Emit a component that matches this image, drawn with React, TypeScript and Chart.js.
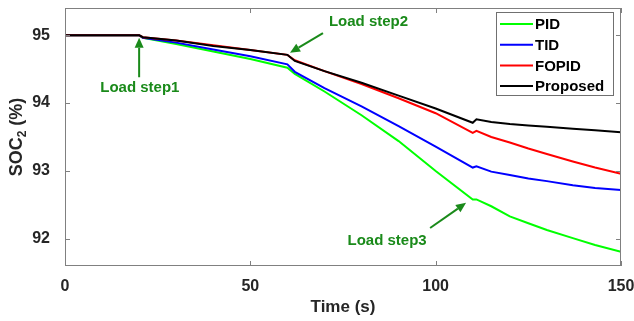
import React, { useEffect, useRef } from "react";
import { Chart, registerables } from "chart.js";

Chart.register(...registerables);

const times = [0, 20, 21, 30, 40, 50, 60, 62, 70, 80, 90, 100, 110, 111, 115, 120, 125, 130, 137, 143, 150];
const pid = [95, 95, 94.96, 94.87, 94.76, 94.65, 94.52, 94.43, 94.17, 93.82, 93.44, 93.0, 92.58, 92.58, 92.48, 92.33, 92.23, 92.13, 92.01, 91.91, 91.81];
const tid = [95, 95, 94.96, 94.89, 94.79, 94.69, 94.57, 94.46, 94.22, 93.95, 93.66, 93.36, 93.05, 93.07, 92.99, 92.94, 92.89, 92.85, 92.79, 92.75, 92.72];
const fopid = [95, 95, 94.97, 94.92, 94.85, 94.78, 94.71, 94.63, 94.47, 94.28, 94.07, 93.85, 93.56, 93.59, 93.50, 93.42, 93.33, 93.25, 93.14, 93.05, 92.96];
const proposed = [95, 95, 94.97, 94.92, 94.84, 94.78, 94.71, 94.62, 94.47, 94.30, 94.11, 93.92, 93.71, 93.76, 93.72, 93.69, 93.67, 93.65, 93.62, 93.60, 93.57];

const seriesLabels = ["PID", "TID", "FOPID", "Proposed"];
const seriesColors = ["#00FF00", "#0000FF", "#FF0000", "#000000"];
const seriesValues = [pid, tid, fopid, proposed];

const xTicks = [0, 50, 100, 150];
const yTicks = [92, 93, 94, 95];

const annoText = ["Load step1", "Load step2", "Load step3"];
// arrow head (x,y), tail (x,y), text anchor (x,y) in data units
const annoHead = [[20, 94.96], [60.7, 94.74], [108.2, 92.53]];
const annoTail = [[20, 94.38], [69.6, 95.03], [98.5, 92.16]];
const annoLabel = [[20.2, 94.22], [71.2, 95.19], [86.9, 91.97]];
const annoAlign = ["center", "left", "center"];

const FONT = '"Liberation Sans", Arial, sans-serif';
const TXT = "#262626";
const AXIS = "#808080";
const ANNO = "#1A8A1A";

const framePlugin = {
  id: "frame",
  afterDatasetsDraw(chart: any) {
    const { ctx, chartArea: a, scales } = chart;
    const xs = scales.x, ys = scales.y;
    ctx.save();
    ctx.strokeStyle = AXIS;
    ctx.lineWidth = 1;
    ctx.strokeRect(a.left + 0.5, a.top + 0.5, a.right - a.left - 1, a.bottom - a.top - 1);
    ctx.beginPath();
    const tl = 5;
    xTicks.forEach((v) => {
      const px = Math.round(xs.getPixelForValue(v)) + 0.5;
      ctx.moveTo(px, a.bottom); ctx.lineTo(px, a.bottom - tl);
      ctx.moveTo(px, a.top); ctx.lineTo(px, a.top + tl);
    });
    yTicks.forEach((v) => {
      const py = Math.round(ys.getPixelForValue(v)) + 0.5;
      ctx.moveTo(a.left, py); ctx.lineTo(a.left + tl, py);
      ctx.moveTo(a.right, py); ctx.lineTo(a.right - tl, py);
    });
    ctx.stroke();

    // annotations
    ctx.strokeStyle = ANNO;
    ctx.fillStyle = ANNO;
    ctx.lineWidth = 2;
    for (let i = 0; i < annoText.length; i++) {
      const hx = xs.getPixelForValue(annoHead[i][0]);
      const hy = ys.getPixelForValue(annoHead[i][1]);
      const tx = xs.getPixelForValue(annoTail[i][0]);
      const ty = ys.getPixelForValue(annoTail[i][1]);
      const ang = Math.atan2(hy - ty, hx - tx);
      const hl = 10, hw = 4.5;
      const bx = hx - hl * Math.cos(ang), by = hy - hl * Math.sin(ang);
      ctx.beginPath();
      ctx.moveTo(tx, ty); ctx.lineTo(bx, by);
      ctx.stroke();
      ctx.beginPath();
      ctx.moveTo(hx, hy);
      ctx.lineTo(bx + hw * Math.sin(ang), by - hw * Math.cos(ang));
      ctx.lineTo(bx - hw * Math.sin(ang), by + hw * Math.cos(ang));
      ctx.closePath();
      ctx.fill();
      ctx.font = `bold 15px ${FONT}`;
      ctx.textAlign = annoAlign[i] as CanvasTextAlign;
      ctx.textBaseline = "middle";
      ctx.fillText(annoText[i], xs.getPixelForValue(annoLabel[i][0]), ys.getPixelForValue(annoLabel[i][1]));
    }

    // legend
    const lx = 496, ly = 12, lw = 117, lh = 83;
    ctx.fillStyle = "#FFFFFF";
    ctx.fillRect(lx, ly, lw, lh);
    ctx.strokeStyle = "#707070";
    ctx.lineWidth = 1;
    ctx.strokeRect(lx + 0.5, ly + 0.5, lw, lh);
    ctx.font = `bold 15px ${FONT}`;
    ctx.textAlign = "left";
    ctx.textBaseline = "middle";
    seriesLabels.forEach((lab, i) => {
      const yy = 24 + i * 20.7;
      ctx.strokeStyle = seriesColors[i];
      ctx.lineWidth = 2;
      ctx.beginPath();
      ctx.moveTo(500, yy); ctx.lineTo(533, yy);
      ctx.stroke();
      ctx.fillStyle = "#000000";
      ctx.fillText(lab, 535, yy + 1);
    });

    // y title with subscript
    ctx.save();
    ctx.translate(17, (a.top + a.bottom) / 2);
    ctx.rotate(-Math.PI / 2);
    ctx.fillStyle = TXT;
    ctx.textBaseline = "middle";
    ctx.textAlign = "left";
    const big = `bold 18px ${FONT}`, small = `bold 12px ${FONT}`;
    ctx.font = big; const w1 = ctx.measureText("SOC").width; const w3 = ctx.measureText(" (%)").width;
    ctx.font = small; const w2 = ctx.measureText("2").width;
    let sx = -(w1 + w2 + w3) / 2;
    ctx.font = big; ctx.fillText("SOC", sx, 0); sx += w1;
    ctx.font = small; ctx.fillText("2", sx, 6); sx += w2;
    ctx.font = big; ctx.fillText(" (%)", sx, 0);
    ctx.restore();
    ctx.restore();
  },
};

export default function App() {
  const ref = useRef<HTMLCanvasElement | null>(null);
  useEffect(() => {
    document.body.style.margin = "0";
    const order = [3, 2, 1, 0];
    const chart = new Chart(ref.current as HTMLCanvasElement, {
      type: "line",
      data: {
        datasets: seriesLabels.map((lab, i) => ({
          label: lab,
          data: times.map((t, j) => ({ x: t, y: seriesValues[i][j] })),
          borderColor: seriesColors[i],
          backgroundColor: seriesColors[i],
          borderWidth: 2,
          pointRadius: 0,
          tension: 0,
          order: order[i],
        })),
      },
      options: {
        animation: false,
        responsive: false,
        maintainAspectRatio: false,
        layout: { padding: { top: 8, right: 13, left: 0, bottom: 0 } },
        plugins: { legend: { display: false }, tooltip: { enabled: false } },
        scales: {
          x: {
            type: "linear",
            min: 0,
            max: 150,
            afterBuildTicks: (s: any) => { s.ticks = xTicks.map((v) => ({ value: v })); },
            afterFit: (s: any) => { s.height = 55; s.paddingLeft = 0; s.paddingRight = 0; },
            grid: { display: false },
            border: { display: false },
            ticks: { color: TXT, font: { family: FONT, size: 16, weight: "bold" }, padding: 3, maxRotation: 0 },
            title: { display: true, text: "Time (s)", color: TXT, font: { family: FONT, size: 17, weight: "bold" }, padding: { top: 0, bottom: 3 } },
          },
          y: {
            type: "linear",
            min: 91.6,
            max: 95.4,
            afterBuildTicks: (s: any) => { s.ticks = yTicks.map((v) => ({ value: v })); },
            afterFit: (s: any) => { s.width = 65; s.paddingTop = 0; s.paddingBottom = 0; },
            grid: { display: false },
            border: { display: false },
            ticks: { color: TXT, font: { family: FONT, size: 16, weight: "bold" }, padding: 7 },
          },
        },
      },
      plugins: [framePlugin],
    });
    return () => chart.destroy();
  }, []);
  return (
    <div style={{ position: "absolute", left: 0, top: 0, width: 634, height: 321 }}>
      <canvas ref={ref} width={634} height={321} style={{ width: 634, height: 321 }} />
    </div>
  );
}
